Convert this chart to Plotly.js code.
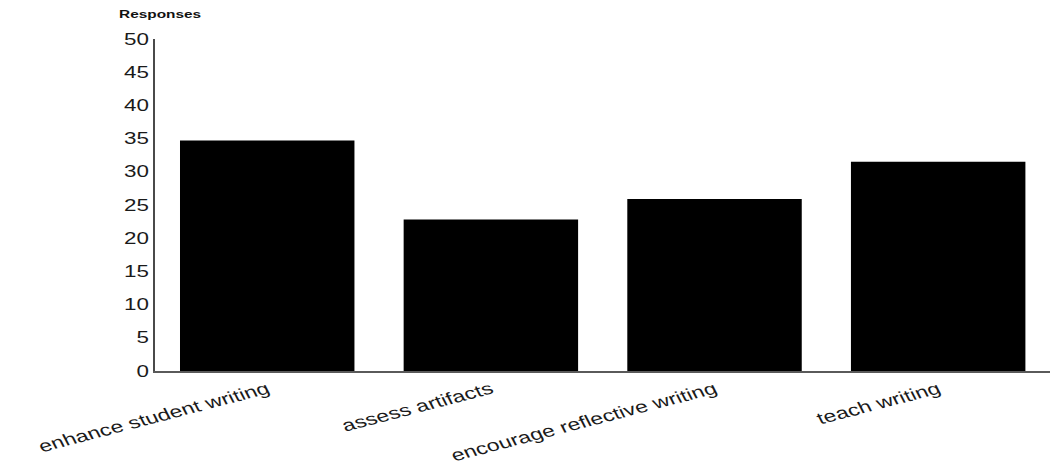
<!DOCTYPE html>
<html>
<head>
<meta charset="utf-8">
<script src="https://cdn.plot.ly/plotly-3.0.1.min.js"></script>
<style>
  html, body { margin: 0; padding: 0; background: #ffffff; overflow: hidden; }
  #chart { width: 750px; height: 465px; transform: scaleX(1.4); transform-origin: 0 0; }
</style>
</head>
<body>
<div id="chart"></div>
<script>
const categories = ["enhance student writing", "assess artifacts", "encourage reflective writing", "teach writing"];
const responses = [34.7, 22.8, 25.9, 31.5];
const yTickValues = [0, 5, 10, 15, 20, 25, 30, 35, 40, 45, 50];
const yAxisLabel = "Responses";

const trace = {
  type: "bar",
  x: categories,
  y: responses,
  marker: { color: "#000000", line: { width: 0 } },
  hoverinfo: "x+y"
};

const layout = {
  width: 750,
  height: 465,
  margin: { l: 111, r: 0, t: 39, b: 94, pad: 0 },
  paper_bgcolor: "#ffffff",
  plot_bgcolor: "#ffffff",
  bargap: 0.22,
  showlegend: false,
  font: { family: "Liberation Sans, Arial, sans-serif", size: 16, color: "#1a1a1a" },
  xaxis: {
    type: "category",
    showgrid: false,
    zeroline: false,
    showline: true,
    linecolor: "#5a5a5a",
    linewidth: 1.5,
    ticks: "",
    tickangle: -20,
    ticklabelstandoff: 1,
    tickfont: { size: 16.5, color: "#1a1a1a" },
    automargin: false
  },
  yaxis: {
    range: [0, 50],
    tickvals: yTickValues,
    ticktext: yTickValues.map(String),
    showgrid: false,
    zeroline: false,
    showline: true,
    linecolor: "#4a4a4a",
    linewidth: 1.4,
    ticks: "",
    tickfont: { size: 16, color: "#1a1a1a" },
    automargin: false
  },
  annotations: [{
    text: "<b>" + yAxisLabel + "</b>",
    xref: "paper", yref: "paper",
    x: -0.044, y: 1.074,
    xanchor: "left", yanchor: "middle",
    showarrow: false,
    font: { family: "Liberation Sans, Arial, sans-serif", size: 11, color: "#111111" }
  }]
};

Plotly.newPlot("chart", [trace], layout, { displayModeBar: false, staticPlot: true });
</script>
</body>
</html>
